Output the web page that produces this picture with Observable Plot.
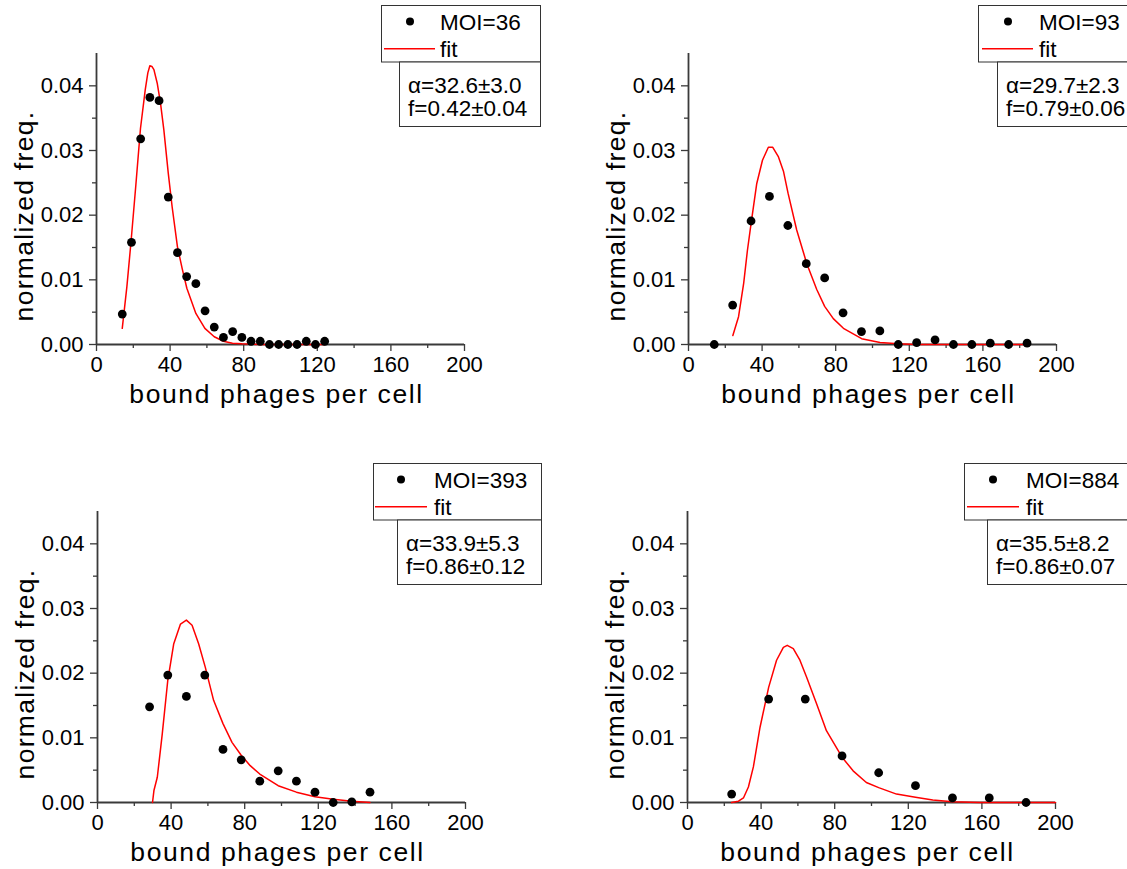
<!DOCTYPE html>
<html>
<head>
<meta charset="utf-8">
<script src="https://cdn.jsdelivr.net/npm/d3@7"></script>
<script src="https://cdn.jsdelivr.net/npm/@observablehq/plot@0.6"></script>
<style>
  html, body { margin: 0; padding: 0; background: #fff; overflow: hidden; }
  #page { position: relative; width: 1127px; height: 869px; overflow: hidden; background: #fff; }
  .panel { position: absolute; width: 560px; height: 430px; }
  .panel svg { position: absolute; left: 0; top: 0; overflow: visible; }
</style>
</head>
<body>
<div id="page"></div>
<script>
// ---------- data ----------
const xTicksMajor = [0, 40, 80, 120, 160, 200];
const xTicksMinor = [20, 60, 100, 140, 180];
const yTicksMajor = [0, 0.01, 0.02, 0.03, 0.04];
const yTicksMinor = [0.005, 0.015, 0.025, 0.035];
const xLabel = "bound phages per cell";
const yLabel = "normalized freq.";

// MOI = 36
const moi36X = [14,19,24,29,34,39,44,49,54,59,64,69,74,79,84,89,94,99,104,109,114,119,124];
const moi36Y = [0.0047,0.0158,0.0318,0.0382,0.0377,0.0228,0.0142,0.0105,0.0094,0.0052,0.0027,0.0011,0.0020,0.0011,0.0005,0.0005,0,0,0,0,0.0005,0,0.0005];
const fit36X = [14,16.5,18.8,21.4,23.9,26.5,27.9,29.0,30.1,31.2,33.0,34.8,36.6,39.0,41.1,44.0,46.6,49.1,54.0,58.9,64.0,69.0,73.9,79.0,89,124];
const fit36Y = [0.0025,0.0089,0.0160,0.0247,0.0334,0.0394,0.0420,0.0431,0.0430,0.0425,0.0404,0.0373,0.0332,0.0265,0.0213,0.0151,0.0117,0.0087,0.0048,0.0025,0.0012,0.0005,0.0002,0.0001,0,0];

// MOI = 93
const moi93X = [14,24,34,44,54,64,74,84,94,104,114,124,134,144,154,164,174,184];
const moi93Y = [0,0.0061,0.0191,0.0229,0.0184,0.0125,0.0103,0.0049,0.0020,0.0021,0,0.0003,0.0007,0,0,0.0002,0,0.0002];
const fit93X = [24.1,27.2,30.0,32.0,34.0,37.1,40.2,43.4,45.8,48.9,51.6,54.1,58.8,64.3,69.7,74.0,78.7,84.2,94.1,104.1,114,124,184];
const fit93Y = [0.0014,0.0043,0.0095,0.0145,0.0187,0.0249,0.0285,0.0305,0.0305,0.0290,0.0268,0.0234,0.0177,0.0125,0.0085,0.0059,0.0040,0.0025,0.0009,0.0003,0.0001,0,0];

// MOI = 393
const moi393X = [28.3,38.2,48.3,58.3,68.2,78.1,88.2,98.2,108.1,118.2,128.1,138.2,148.1];
const moi393Y = [0.0148,0.0197,0.0164,0.0197,0.0082,0.0066,0.0033,0.0049,0.0033,0.0016,0,0.0001,0.0016];
const fit393X = [29.9,30.7,32.5,35.2,38.2,41.4,45.1,48.3,51.4,55.0,58.6,63.1,68.2,73.1,78.1,83.0,88.2,98.2,108.1,118.2,128.1,138.2,148.1];
const fit393Y = [0,0.0019,0.0039,0.0106,0.0189,0.0245,0.0276,0.0282,0.0274,0.0245,0.0209,0.0158,0.0122,0.0093,0.0073,0.0057,0.0044,0.0026,0.0016,0.0009,0.0005,0.0002,0];

// MOI = 884
const moi884X = [24,44.1,64,84,103.9,123.9,144,164,184];
const moi884Y = [0.0013,0.0160,0.0160,0.0072,0.0046,0.0026,0.0007,0.0007,0];
const fit884X = [24,27.7,30.4,33.1,35.8,39.4,44.1,48.4,52.1,54.2,57.5,61.1,64.7,70.1,75.5,84.0,90.0,97.2,103.9,113.6,123.9,133.3,144,158.5,200];
const fit884Y = [0,0.0002,0.0007,0.0024,0.0055,0.0116,0.0178,0.0220,0.0240,0.0243,0.0238,0.0220,0.0194,0.0153,0.0111,0.0070,0.0049,0.0031,0.0023,0.0013,0.0008,0.0004,0.0001,0,0];

const moiLabels = ["MOI=36", "MOI=93", "MOI=393", "MOI=884"];
const alphaLabels = ["\u03b1=32.6\u00b13.0", "\u03b1=29.7\u00b12.3", "\u03b1=33.9\u00b15.3", "\u03b1=35.5\u00b18.2"];
const fLabels = ["f=0.42\u00b10.04", "f=0.79\u00b10.06", "f=0.86\u00b10.12", "f=0.86\u00b10.07"];
const fitLabel = "fit";

// ---------- layout ----------
const FONT = "'Liberation Sans', Arial, Helvetica, sans-serif";
const AXIS = "#3a3a3a";
const panels = [
  {left: 0,   top: 0,   xs: moi36X,  ys: moi36Y,  fx: fit36X,  fy: fit36Y,
   lg: {b1: 381, b2: 399, right: 540, dot: 410, tx: 440, l1: 384, l2: 435, ax: 408}},
  {left: 592, top: 0,   xs: moi93X,  ys: moi93Y,  fx: fit93X,  fy: fit93Y,
   lg: {b1: 386, b2: 405, right: 545, dot: 416, tx: 447, l1: 390, l2: 441, ax: 414}},
  {left: 1,   top: 458, xs: moi393X, ys: moi393Y, fx: fit393X, fy: fit393Y,
   lg: {b1: 372, b2: 396, right: 540, dot: 400, tx: 433, l1: 374, l2: 426, ax: 405}},
  {left: 591, top: 458, xs: moi884X, ys: moi884Y, fx: fit884X, fy: fit884Y,
   lg: {b1: 373, b2: 396, right: 542, dot: 402, tx: 435, l1: 376, l2: 428, ax: 405}}
];

const page = document.getElementById("page");

panels.forEach((p, i) => {
  const pts = p.xs.map((x, k) => ({x, y: p.ys[k]}));
  const fit = p.fx.map((x, k) => ({x, y: p.fy[k]}));
  const chart = Plot.plot({
    width: 560, height: 430,
    marginLeft: 96, marginRight: 96, marginTop: 53, marginBottom: 86,
    style: {fontFamily: FONT, fontSize: "22px", color: "#000", background: "transparent", overflow: "visible"},
    x: {domain: [0, 200]},
    y: {domain: [0, 0.045]},
    marks: [
      Plot.axisX({ticks: xTicksMajor, tickSize: 7, tickPadding: 5, tickFormat: d => String(d), fontSize: 22, label: null, stroke: AXIS, strokeWidth: 1.3}),
      Plot.axisX({ticks: xTicksMinor, tickSize: 4, tickFormat: () => "", label: null, stroke: AXIS, strokeWidth: 1.3}),
      Plot.axisY({ticks: yTicksMajor, tickSize: 7, tickPadding: 6, tickFormat: d => d.toFixed(2), fontSize: 22, label: null, stroke: AXIS, strokeWidth: 1.3}),
      Plot.axisY({ticks: yTicksMinor, tickSize: 4, tickFormat: () => "", label: null, stroke: AXIS, strokeWidth: 1.3}),
      Plot.ruleY([0], {stroke: AXIS, strokeWidth: 1.8}),
      Plot.ruleX([0], {stroke: AXIS, strokeWidth: 1.8}),
      Plot.line(fit, {x: "x", y: "y", stroke: "#ff0000", strokeWidth: 1.5}),
      Plot.dot(pts, {x: "x", y: "y", r: 4.4, fill: "#000", stroke: "none"}),
      Plot.text([xLabel], {text: d => d, frameAnchor: "bottom", textAnchor: "middle", lineAnchor: "middle", dx: -4, dy: 50, fontSize: 26.5, fill: "#000"}),
      Plot.text([yLabel], {text: d => d, frameAnchor: "left", textAnchor: "middle", lineAnchor: "middle", rotate: -90, dx: -72, dy: 17, fontSize: 26.5, fill: "#000"})
    ]
  });
  d3.select(chart).selectAll("text")
    .filter(function() { return this.textContent === xLabel; })
    .style("letter-spacing", "1.6px");
  d3.select(chart).selectAll("text")
    .filter(function() { return this.textContent === yLabel; })
    .style("letter-spacing", "1.3px");

  const div = document.createElement("div");
  div.className = "panel";
  div.style.left = p.left + "px";
  div.style.top = p.top + "px";
  div.appendChild(chart);

  // legend overlay
  const L = p.lg;
  const svg = d3.create("svg").attr("width", 560).attr("height", 430)
    .style("font-family", FONT).style("font-size", "22.5px");
  svg.append("rect").attr("x", L.b1 + 0.5).attr("y", 5.5).attr("width", L.right - L.b1).attr("height", 56.5)
    .attr("fill", "#fff").attr("stroke", "#333").attr("stroke-width", 1);
  svg.append("rect").attr("x", L.b2 + 0.5).attr("y", 62).attr("width", L.right - L.b2).attr("height", 64.5)
    .attr("fill", "#fff").attr("stroke", "#333").attr("stroke-width", 1);
  svg.append("circle").attr("cx", L.dot).attr("cy", 21.5).attr("r", 4).attr("fill", "#000");
  svg.append("text").attr("x", L.tx).attr("y", 30).text(moiLabels[i]);
  svg.append("line").attr("x1", L.l1).attr("x2", L.l2).attr("y1", 48.7).attr("y2", 48.7)
    .attr("stroke", "#ff0000").attr("stroke-width", 1.5);
  svg.append("text").attr("x", L.tx).attr("y", 56.5).text(fitLabel);
  svg.append("text").attr("x", L.ax).attr("y", 92.5).text(alphaLabels[i]);
  svg.append("text").attr("x", L.ax).attr("y", 116).text(fLabels[i]);
  div.appendChild(svg.node());
  page.appendChild(div);
});
</script>
</body>
</html>
